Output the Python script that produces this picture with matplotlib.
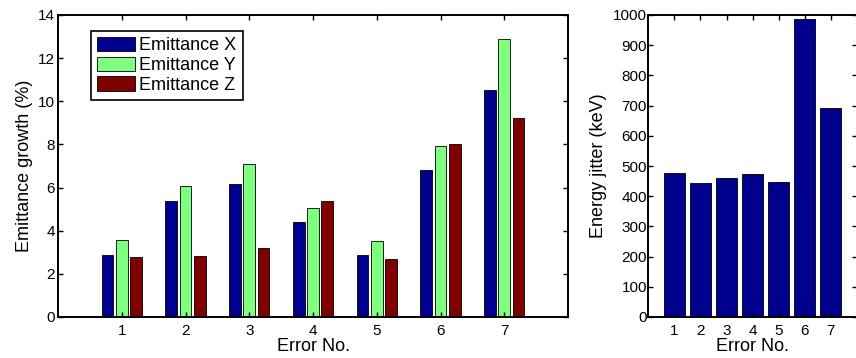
import matplotlib
matplotlib.use("Agg")
import matplotlib.pyplot as plt
import numpy as np

plt.rcParams['font.family'] = ['Liberation Sans', 'DejaVu Sans']

# Emittance growth per error case (%)
error_no = [1, 2, 3, 4, 5, 6, 7]
emit_x = [2.86, 5.39, 6.18, 4.42, 2.86, 6.83, 10.51]
emit_y = [3.57, 6.09, 7.11, 5.07, 3.52, 7.94, 12.90]
emit_z = [2.78, 2.81, 3.18, 5.39, 2.69, 8.02, 9.22]
series_labels = ['Emittance X', 'Emittance Y', 'Emittance Z']

# Energy jitter per error case (keV)
energy_jitter = [477, 445, 459, 473, 447, 986, 691]

col_x = (0.0, 0.0, 0.5625)
col_y = (0.5, 1.0, 0.5)
col_z = (0.5, 0.0, 0.0)

fig = plt.figure(figsize=(8.56, 3.58), dpi=100)

tick_fs = 11
label_fs = 13


def style_axes(ax):
    for s in ax.spines.values():
        s.set_linewidth(1.4)
    ax.tick_params(direction='in', top=True, right=True, length=3.5,
                   width=1.0, labelsize=tick_fs)
    ax.tick_params(axis='y', pad=2)
    ax.tick_params(axis='x', pad=5)


# Left panel: grouped bars
ax1 = fig.add_axes([58 / 856, 1 - 317 / 358, 510 / 856, 302 / 358])
x = np.array(error_no, dtype=float)
off = 0.222
w = 0.185
for vals, col, lab, d in [(emit_x, col_x, series_labels[0], -off),
                          (emit_y, col_y, series_labels[1], 0.0),
                          (emit_z, col_z, series_labels[2], off)]:
    ax1.bar(x + d, vals, width=w, color=col, edgecolor='black',
            linewidth=0.6, label=lab)
ax1.set_xlim(0, 8)
ax1.set_ylim(0, 14)
ax1.set_xticks(error_no)
ax1.set_yticks(np.arange(0, 15, 2))
style_axes(ax1)
ax1.set_xlabel('Error No.', fontsize=label_fs, labelpad=0)
ax1.set_ylabel('Emittance growth (%)', fontsize=label_fs, labelpad=4)
leg = ax1.legend(loc='upper left', bbox_to_anchor=(0.064, 0.948),
                 borderaxespad=0, fontsize=label_fs, frameon=True,
                 fancybox=False, edgecolor='black', framealpha=1,
                 handlelength=2.1, handleheight=0.85, handletextpad=0.25,
                 labelspacing=0.12, borderpad=0.35)
leg.get_frame().set_linewidth(1.2)

# Right panel: energy jitter
ax2 = fig.add_axes([648.3 / 856, 1 - 317 / 358, 208.7 / 856, 302 / 358])
ax2.bar(error_no, energy_jitter, width=0.8, color=col_x,
        edgecolor='black', linewidth=0.6)
ax2.set_xlim(0, 8)
ax2.set_ylim(0, 1000)
ax2.set_xticks(error_no)
ax2.set_yticks(np.arange(0, 1001, 100))
style_axes(ax2)
ax2.tick_params(axis='y', pad=1)
ax2.set_xlabel('Error No.', fontsize=label_fs, labelpad=0)
ax2.set_ylabel('Energy jitter (keV)', fontsize=label_fs, labelpad=4)

fig.savefig('out.png', dpi=100)
